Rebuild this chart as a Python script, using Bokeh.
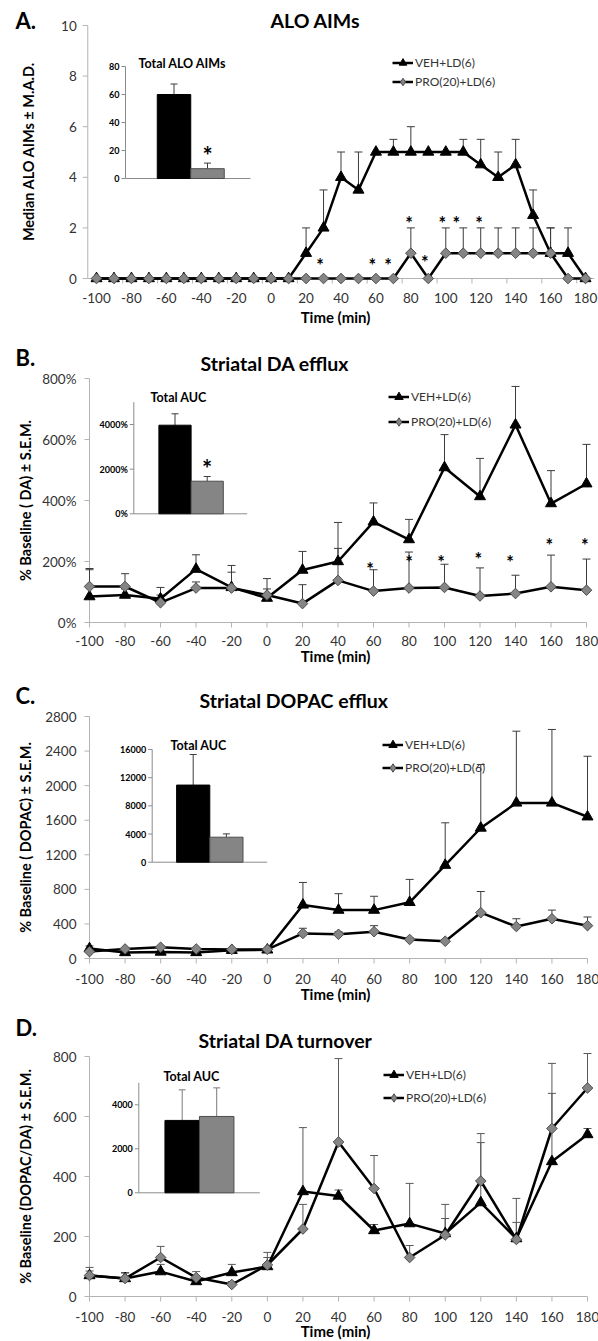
import numpy as np
from bokeh.plotting import figure
from bokeh.models import Range1d, Legend, LegendItem
from bokeh.layouts import column
from bokeh.embed import file_html
from bokeh.resources import INLINE
from bokeh.core.properties import value

FONT = "Lato"

# ---------------- data ----------------
# Panel A: ALO AIMs (median +- MAD)
time_a = [-100, -90, -80, -70, -60, -50, -40, -30, -20, -10, 0, 10, 20, 30, 40,
          50, 60, 70, 80, 90, 100, 110, 120, 130, 140, 150, 160, 170, 180]
veh_a = [0, 0, 0, 0, 0, 0, 0, 0, 0, 0, 0, 0, 1, 2, 4, 3.5, 5, 5, 5, 5, 5, 5,
         4.5, 4, 4.5, 2.5, 1, 1, 0]
veh_a_err = [0, 0, 0, 0, 0, 0, 0, 0, 0, 0, 0, 0, 1, 1.5, 1, 1.5, 0, 0.5, 1, 0,
             0, 0.5, 1, 1, 1, 1, 1, 1, 0]
pro_a = [0, 0, 0, 0, 0, 0, 0, 0, 0, 0, 0, 0, 0, 0, 0, 0, 0, 0, 1, 0, 1, 1, 1,
         1, 1, 1, 1, 0, 0]
pro_a_err = [0, 0, 0, 0, 0, 0, 0, 0, 0, 0, 0, 0, 0, 0, 0, 0, 0, 0, 1, 0, 1, 1,
             1, 1, 1, 1, 1, 0, 0]
star_a_x = [28, 58, 67, 79, 88, 98, 106, 119]
star_a_y = [0.75, 0.75, 0.75, 2.4, 0.85, 2.4, 2.4, 2.4]
ticks_a_x = [-100, -80, -60, -40, -20, 0, 20, 40, 60, 80, 100, 120, 140, 160, 180]
minor_a_x = [-85, -65, -45, -25, -5, 15, 35, 55, 75, 95, 115, 135, 155, 175]
ticks_a_y = [0, 2, 4, 6, 8, 10]
inset_a = [60, 7]
inset_a_err = [7.5, 4]
inset_a_ticks = [0, 20, 40, 60, 80]

# Panel B: Striatal DA efflux
time_b = [-100, -80, -60, -40, -20, 0, 20, 40, 60, 80, 100, 120, 140, 160, 180]
veh_b = [85, 90, 78, 175, 115, 80, 172, 200, 330, 272, 508, 413, 648, 390, 455]
veh_b_err = [92, 20, 37, 47, 72, 30, 61, 128, 62, 66, 108, 125, 126, 108, 129]
pro_b = [118, 118, 65, 113, 113, 90, 62, 138, 103, 113, 115, 87, 95, 117, 106]
pro_b_err = [55, 42, 25, 20, 52, 54, 62, 105, 70, 118, 76, 92, 60, 104, 102]
star_b_x = [58, 80, 98, 119, 137, 159, 179]
star_b_y = [193, 216, 216, 223, 216, 272, 272]
ticks_b_y = [0, 200, 400, 600, 800]
inset_b = [3970, 1460]
inset_b_err = [510, 210]
inset_b_ticks = [0, 2000, 4000]

# Panel C: Striatal DOPAC efflux
time_c = time_b
veh_c = [115, 70, 75, 70, 95, 100, 620, 560, 560, 650, 1080, 1510, 1800, 1800, 1640]
veh_c_err = [30, 10, 10, 10, 10, 10, 260, 190, 160, 265, 490, 735, 830, 850, 700]
pro_c = [80, 110, 130, 110, 105, 105, 290, 280, 310, 220, 200, 530, 370, 460, 380]
pro_c_err = [10, 10, 10, 10, 10, 10, 60, 30, 70, 20, 20, 245, 90, 100, 100]
ticks_c_y = [0, 400, 800, 1200, 1600, 2000, 2400, 2800]
inset_c = [10950, 3550]
inset_c_err = [4340, 470]
inset_c_ticks = [0, 4000, 8000, 12000, 16000]

# Panel D: Striatal DA turnover
time_d = time_b
veh_d = [70, 60, 83, 50, 80, 100, 350, 335, 220, 243, 210, 313, 193, 450, 540]
veh_d_err = [27, 20, 24, 10, 27, 30, 213, 20, 20, 134, 97, 200, 134, 227, 20]
pro_d = [70, 60, 130, 63, 40, 105, 225, 515, 360, 130, 205, 385, 190, 560, 695]
pro_d_err = [15, 18, 37, 20, 10, 42, 82, 278, 110, 40, 55, 158, 57, 217, 115]
ticks_d_y = [0, 200, 400, 600, 800]
inset_d = [3290, 3470]
inset_d_err = [1390, 1300]
inset_d_ticks = [0, 2000, 4000]

ticks_x = time_b
series_labels = ["VEH+LD(6)", "PRO(20)+LD(6)"]

# ---------------- style ----------------
W = 598
AXC = "#b4b4b4"
TICKC = "#333333"
ERRC = "#3c3c3c"
GRAY = "#858585"
GRAY_LINE = "#4d4d4d"


class Frame:
    """Maps data <-> canvas pixels for a panel whose frame is the whole canvas."""
    def __init__(self, h, xa, pxa, xb, pxb, ya, pya, yb, pyb):
        self.h = h
        self.sx = (pxb - pxa) / (xb - xa)
        self.sy = (pya - pyb) / (yb - ya)
        self.x0 = xa - pxa / self.sx
        self.x1 = self.x0 + W / self.sx
        self.y_top = ya + pya / self.sy
        self.y_bot = ya - (h - pya) / self.sy

    def X(self, px):
        return self.x0 + px / self.sx

    def Y(self, py):
        return self.y_top - py / self.sy


def panel(h, xmap, ymap):
    f = Frame(h, *xmap, *ymap)
    p = figure(width=W, height=h, x_range=Range1d(f.x0, f.x1),
               y_range=Range1d(f.y_bot, f.y_top), output_backend="svg",
               toolbar_location=None, x_axis_location=None,
               y_axis_location=None, min_border=0)
    p.outline_line_color = None
    p.grid.visible = False
    p.background_fill_color = "white"
    p.border_fill_color = "white"
    return p, f


def txt(p, x, y, s, size, bold=True, align="left", angle=0, color="black",
        **kw):
    p.text(x=[x], y=[y], text=[s], text_font=value(FONT),
           text_font_size=size, text_font_style="bold" if bold else "normal",
           text_align=align, text_baseline="middle", angle=angle,
           text_color=color, **kw)


def axes(p, f, xlo, xhi, ylo, yhi, xticks, yticks, ylabels, xlab_off,
         ylab_off, xmarks=None):
    p.segment(x0=[xlo, xlo], y0=[ylo, ylo], x1=[xhi, xlo], y1=[ylo, yhi],
              line_color=AXC, line_width=1)
    marks = xmarks if xmarks is not None else xticks
    d = 5 / f.sy
    p.segment(x0=marks, y0=[ylo] * len(marks), x1=marks,
              y1=[ylo - d] * len(marks), line_color=AXC, line_width=1)
    dx = 5 / f.sx
    p.segment(x0=[xlo - dx] * len(yticks), y0=yticks, x1=[xlo] * len(yticks),
              y1=yticks, line_color=AXC, line_width=1)
    p.text(x=xticks, y=[ylo] * len(xticks), text=[str(t) for t in xticks],
           y_offset=xlab_off, text_align="center", text_baseline="middle",
           text_font=value(FONT), text_font_size="13.5px", text_color=TICKC)
    p.text(x=[xlo] * len(yticks), y=yticks, text=ylabels, x_offset=ylab_off,
           text_align="right", text_baseline="middle", text_font=value(FONT),
           text_font_size="13.5px", text_color=TICKC)


def err_bars(p, t, v, e, color=ERRC):
    xs = [a for a, b in zip(t, e) if b > 0]
    y0 = [a for a, b in zip(v, e) if b > 0]
    y1 = [a + b for a, b in zip(v, e) if b > 0]
    p.segment(x0=xs, y0=y0, x1=xs, y1=y1, line_color=color, line_width=1)
    p.scatter(x=xs, y=y1, marker="dash", size=8, line_color=color, line_width=1)


def series(p, t, veh, veh_e, pro, pro_e, err_color=ERRC):
    err_bars(p, t, pro, pro_e, err_color)
    err_bars(p, t, veh, veh_e, err_color)
    lv = p.line(t, veh, line_color="black", line_width=2.5)
    mv = p.scatter(t, veh, marker="triangle", size=11, fill_color="black",
                   line_color="black")
    lp = p.line(t, pro, line_color="black", line_width=2.5)
    # diamond drawn under the rotated squares; it provides the legend swatch
    mp = p.scatter(t, pro, marker="diamond", size=9, fill_color=GRAY,
                   line_color=GRAY_LINE, line_width=1)
    p.scatter(t, pro, marker="square", angle=np.pi / 4, size=7.5,
              fill_color=GRAY, line_color=GRAY_LINE, line_width=1)
    return lv, mv, lp, mp


def legend(p, rends, x, y, step):
    lv, mv, lp, mp = rends
    lg = Legend(items=[LegendItem(label=series_labels[0], renderers=[lv, mv]),
                       LegendItem(label=series_labels[1], renderers=[lp, mp])],
                location=(x, y), orientation="vertical", padding=0, margin=0,
                spacing=0, glyph_width=21, glyph_height=step,
                label_height=step, label_standoff=2, label_text_font=FONT,
                label_text_font_size="12px", label_text_color="#333333",
                background_fill_alpha=0, border_line_color=None)
    p.add_layout(lg)


def inset(p, f, name, geo, vals, errs, ticks, ymax, labels, title,
          star=False, err_color=ERRC):
    ax, rx, y0, ytop, bw, c0, tx, ty = geo
    p.extra_x_ranges[name] = Range1d(-c0 / bw, (W - c0) / bw)
    ppu = (y0 - ytop) / ymax
    p.extra_y_ranges[name] = Range1d((y0 - f.h) / ppu, y0 / ppu)
    kw = dict(x_range_name=name, y_range_name=name)
    idx = list(range(len(vals)))
    axu = (ax - c0) / bw
    rxu = (rx - c0) / bw
    tl = 4 / bw
    p.segment(x0=[axu, axu], y0=[0, 0], x1=[axu, rxu], y1=[ymax, 0],
              line_color="#8c8c8c", line_width=1, **kw)
    p.segment(x0=[axu - tl] * len(ticks), y0=ticks, x1=[axu] * len(ticks),
              y1=ticks, line_color="#8c8c8c", line_width=1, **kw)
    p.text(x=[axu] * len(ticks), y=ticks, text=labels,
           x_offset=-6, text_align="right", text_baseline="middle",
           text_font=value(FONT), text_font_style="bold",
           text_font_size="9px", text_color="black", **kw)
    tops = [a + b for a, b in zip(vals, errs)]
    p.segment(x0=idx, y0=vals, x1=idx, y1=tops, line_color=err_color,
              line_width=1, **kw)
    p.scatter(x=idx, y=tops, marker="dash", size=7, line_color=err_color,
              line_width=1, **kw)
    p.vbar(x=idx, top=vals, bottom=0, width=1,
           fill_color=["black", GRAY], line_color=["black", GRAY_LINE],
           line_width=1, **kw)
    txt(p, f.X(tx), f.Y(ty), title, "12.5px")
    if star:
        p.text(x=[idx[1]], y=[tops[1]], text=["*"], y_offset=-8,
               text_align="center", text_baseline="middle",
               text_font=value(FONT), text_font_style="bold",
               text_font_size="24px", text_color="black", **kw)


def stars(p, xs, ys):
    p.text(x=xs, y=ys, text=["*"] * len(xs), text_align="center",
           text_baseline="middle", y_offset=5, text_font=value(FONT),
           text_font_style="bold", text_font_size="18px", text_color="black")


def headers(p, f, letter, ly, title, tx, tyy, ytitle, ycx, ycy, tmy):
    txt(p, f.X(15), f.Y(ly), letter, "22px")
    txt(p, f.X(tx), f.Y(tyy), title, "19.5px")
    txt(p, f.X(335), f.Y(tmy), "Time (min)", "15px", align="center")
    txt(p, f.X(ycx), f.Y(ycy), ytitle, "14.5px", align="center",
        angle=np.pi / 2)


# ---------------- Panel A ----------------
pA, fA = panel(338, (-100, 96, 180, 585), (0, 278, 10, 25))
axes(pA, fA, -105, 185, 0, 10, ticks_a_x, ticks_a_y,
     [str(t) for t in ticks_a_y], 19, -11, xmarks=minor_a_x)
rA = series(pA, time_a, veh_a, veh_a_err, pro_a, pro_a_err)
stars(pA, star_a_x, star_a_y)
legend(pA, rA, 392, 338 - 90.5, 19)
inset(pA, fA, "ia", (125, 250, 178, 66, 33.5, 173.5, 138, 63), inset_a,
      inset_a_err, inset_a_ticks, 80, [str(t) for t in inset_a_ticks],
      "Total ALO AIMs", star=True)
headers(pA, fA, "A.", 20, "ALO AIMs", 270, 20, "Median ALO AIMs ± M.A.D.",
        28, 151, 316)

# ---------------- Panel B ----------------
pB, fB = panel(337, (-100, 89, 180, 586), (0, 284, 800, 40))
axes(pB, fB, -100, 180, 0, 800, ticks_x, ticks_b_y,
     [f"{t}%" for t in ticks_b_y], 18, -13)
rB = series(pB, time_b, veh_b, veh_b_err, pro_b, pro_b_err)
stars(pB, star_b_x, star_b_y)
legend(pB, rB, 388, 337 - 95.5, 25)
inset(pB, fB, "ib", (133.3, 246.7, 175.3, 63.7, 32.2, 174.5, 150, 59),
      inset_b, inset_b_err, inset_b_ticks, 5000,
      [f"{t}%" for t in inset_b_ticks], "Total AUC", star=True)
headers(pB, fB, "B.", 19, "Striatal DA efflux", 200, 25,
        "% Baseline ( DA) ± S.E.M.", 25, 162, 317)

# ---------------- Panel C ----------------
pC, fC = panel(333, (-100, 89, 180, 587), (0, 283, 2800, 41))
axes(pC, fC, -100, 180, 0, 2800, ticks_x, ticks_c_y,
     [str(t) for t in ticks_c_y], 20, -13)
rC = series(pC, time_c, veh_c, veh_c_err, pro_c, pro_c_err)
legend(pC, rC, 382, 333 - 103.5, 23)
inset(pC, fC, "ic", (151.7, 266.7, 186.7, 74, 33.2, 192.7, 170, 70),
      inset_c, inset_c_err, inset_c_ticks, 16000,
      [str(t) for t in inset_c_ticks], "Total AUC")
headers(pC, fC, "C.", 20, "Striatal DOPAC efflux", 199, 25,
        "% Baseline ( DOPAC) ± S.E.M.", 25, 162, 318)

# ---------------- Panel D ----------------
pD, fD = panel(333, (-100, 89, 180, 587), (0, 288, 800, 48))
axes(pD, fD, -100, 180, 0, 800, ticks_x, ticks_d_y,
     [str(t) for t in ticks_d_y], 20, -13)
rD = series(pD, time_d, veh_d, veh_d_err, pro_d, pro_d_err,
            err_color="#595959")
legend(pD, rD, 383, 333 - 100.5, 23)
inset(pD, fD, "id", (138.3, 259.3, 184.3, 74.3, 34.5, 181.7, 163, 68),
      inset_d, inset_d_err, inset_d_ticks, 5000,
      [str(t) for t in inset_d_ticks], "Total AUC", err_color="#7a7a7a")
headers(pD, fD, "D.", 19, "Striatal DA turnover", 198, 32,
        "% Baseline (DOPAC/DA) ± S.E.M.", 25, 168, 322)

layout = column(pA, pB, pC, pD, spacing=0)
open("out.html", "w").write(file_html(layout, INLINE))
